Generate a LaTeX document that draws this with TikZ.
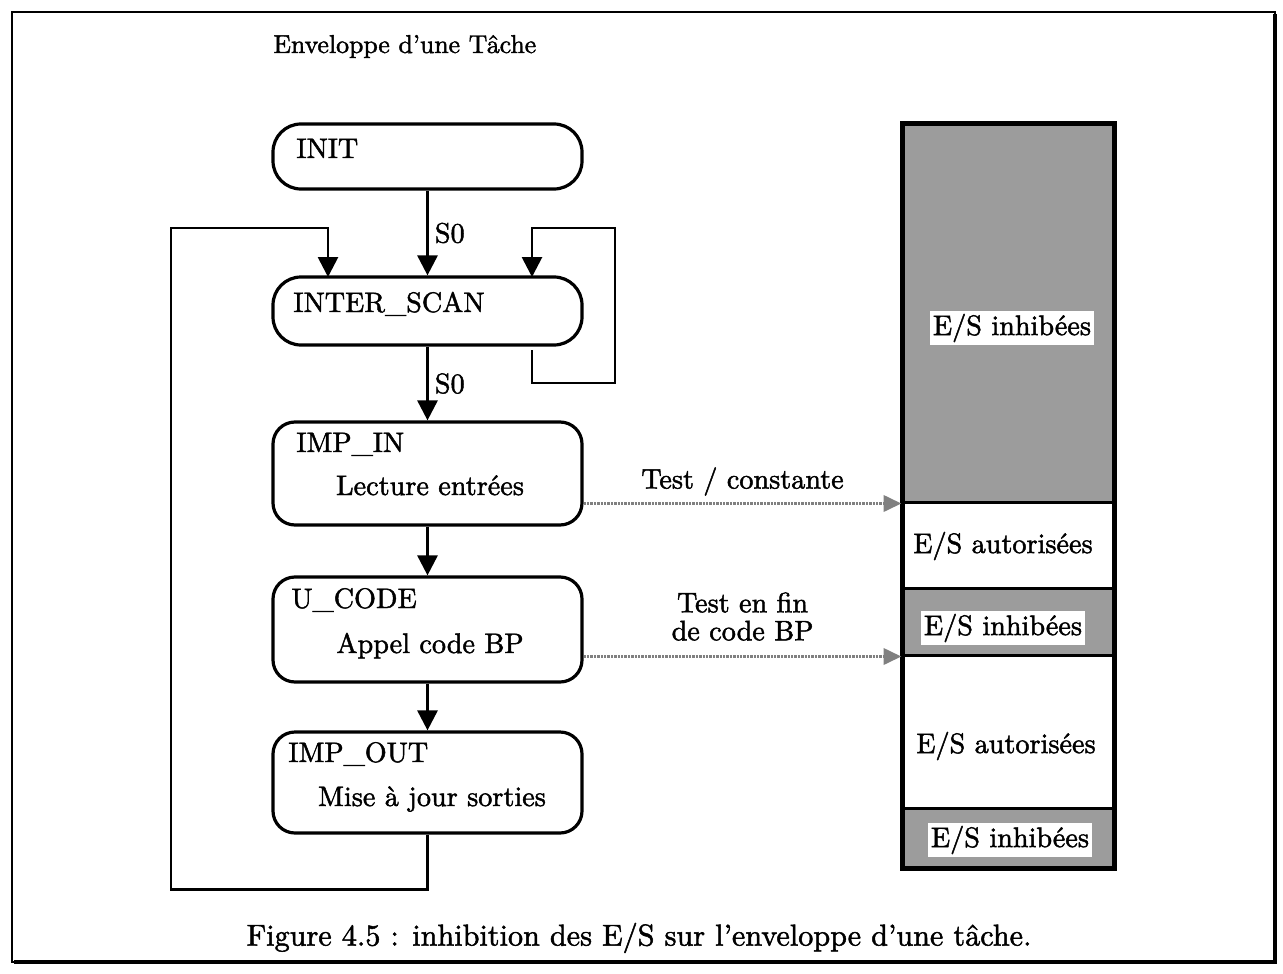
\documentclass[tikz,border=0pt]{standalone}
\usepackage{fontspec}
\usetikzlibrary{arrows.meta,calc}
\font\figfont="[lmroman10-regular.otf]:mapping=tex-text;embolden=1.6" at 14.1pt
\font\titlefont="[lmroman10-regular.otf]:mapping=tex-text;embolden=1.6" at 12.9pt
\font\capfont="[lmroman10-regular.otf]:mapping=tex-text;embolden=1.6" at 15.1pt
\begin{document}
\begin{tikzpicture}[x=0.5pt,y=-0.5pt,
  state/.style={draw,line width=1.6pt,rounded corners=14pt,minimum width=154.5pt,inner sep=0pt},
  tstate/.style={state,rounded corners=11pt},
  lbl/.style={font=\figfont,inner sep=0pt,anchor=base west},
  clbl/.style={font=\figfont,inner sep=0pt,anchor=base},
  flow/.style={line width=1.4pt,-{Triangle[length=10pt,width=10pt]}},
  test/.style={line width=1.9pt,black!50,dash pattern=on 1.2pt off 0.5pt,-{Triangle[length=9pt,width=8pt,fill=black!50,color=black!50]}},
  seg/.style={draw,line width=1.5pt,minimum width=105pt,inner sep=0pt},
  inh/.style={seg,fill=gray!78},
  aut/.style={seg,fill=white},
  esl/.style={font=\figfont,fill=white,inner sep=1.5pt},
]
\useasboundingbox (0,0) rectangle (1283,973);
% frame
\draw[line width=1.2pt] (12,12) rectangle (1275,962);
\draw[line width=2.4pt] (1275,14) -- (1275,962) -- (14,962);

\node[font=\titlefont,inner sep=0pt,anchor=base west] (title) at (273,53) {Enveloppe d'une Tâche};
\node[font=\capfont,inner sep=0pt] (caption) at (639,938) {Figure 4.5 : inhibition des E/S sur l'enveloppe d'une tâche.};

% states
\node[state,minimum height=32.5pt] (init) at (427.5,156.5) {};
\node[state,minimum height=34pt] (scan) at (427.5,311) {};
\node[tstate,minimum height=51.5pt] (impin) at (427.5,473.5) {};
\node[tstate,minimum height=52.5pt] (ucode) at (427.5,629.5) {};
\node[tstate,minimum height=50.5pt] (impout) at (427.5,782.5) {};

\node[lbl] (tinit) at (296,158) {INIT};
\node[lbl] (tscan) at (293,312) {INTER\_SCAN};
\node[lbl] (timpin) at (296,452) {IMP\_IN};
\node[clbl] (limpin) at (430,495) {Lecture entrées};
\node[lbl] (tucode) at (291,608) {U\_CODE};
\node[clbl] (lucode) at (430,653) {Appel code BP};
\node[lbl] (timpout) at (288,762) {IMP\_OUT};
\node[clbl] (limpout) at (432,806) {Mise à jour sorties};

% flow arrows
\draw[flow] (init.south) -- node[right,font=\figfont,inner sep=3pt] (s0a) {S0} (scan.north);
\draw[flow] (scan.south) -- node[right,font=\figfont,inner sep=3pt] (s0b) {S0} (impin.north);
\draw[flow] (impin.south) -- (ucode.north);
\draw[flow] (ucode.south) -- (impout.north);

% loops
\coordinate (lt) at (328,277);
\coordinate (rt) at (532,277);
\draw[flow] (impout.south) -- ++(0,55) -| (171,228) -| (lt);
\coordinate (rs) at (532,350);
\draw[flow] (rs) -- (532,383) -| (615,228) -| (rt);

% right column
\node[inh,minimum height=188.5pt] (seg1) at (1008,313.5) {};
\node[aut,minimum height=43pt] (seg2) at (1008,545) {};
\node[inh,minimum height=33.5pt] (seg3) at (1008,621.5) {};
\node[aut,minimum height=76.5pt] (seg4) at (1008,731.5) {};
\node[inh,minimum height=29.5pt] (seg5) at (1008,837.5) {};
\draw[line width=2pt] (seg1.north west) rectangle (seg5.south east);

\node[esl] (e1) at (1012,328) {E/S inhibées};
\node[font=\figfont,inner sep=0pt] (e2) at (1003,546) {E/S autorisées};
\node[esl] (e3) at (1003,628) {E/S inhibées};
\node[font=\figfont,inner sep=0pt] (e4) at (1006,746) {E/S autorisées};
\node[esl] (e5) at (1010,840) {E/S inhibées};

% test arrows
\draw[test] (impin.east |- seg1.south west) -- node[above=3pt,font=\figfont,text=black,inner sep=0pt] (t1) {Test / constante} (seg1.south west);
\draw[test] (ucode.east |- seg3.south west) -- node[above=7pt,font={\figfont\baselineskip=14pt},text=black,align=center,inner sep=0pt] (t2) {Test en fin\\de code BP} (seg3.south west);
\end{tikzpicture}
\end{document}
